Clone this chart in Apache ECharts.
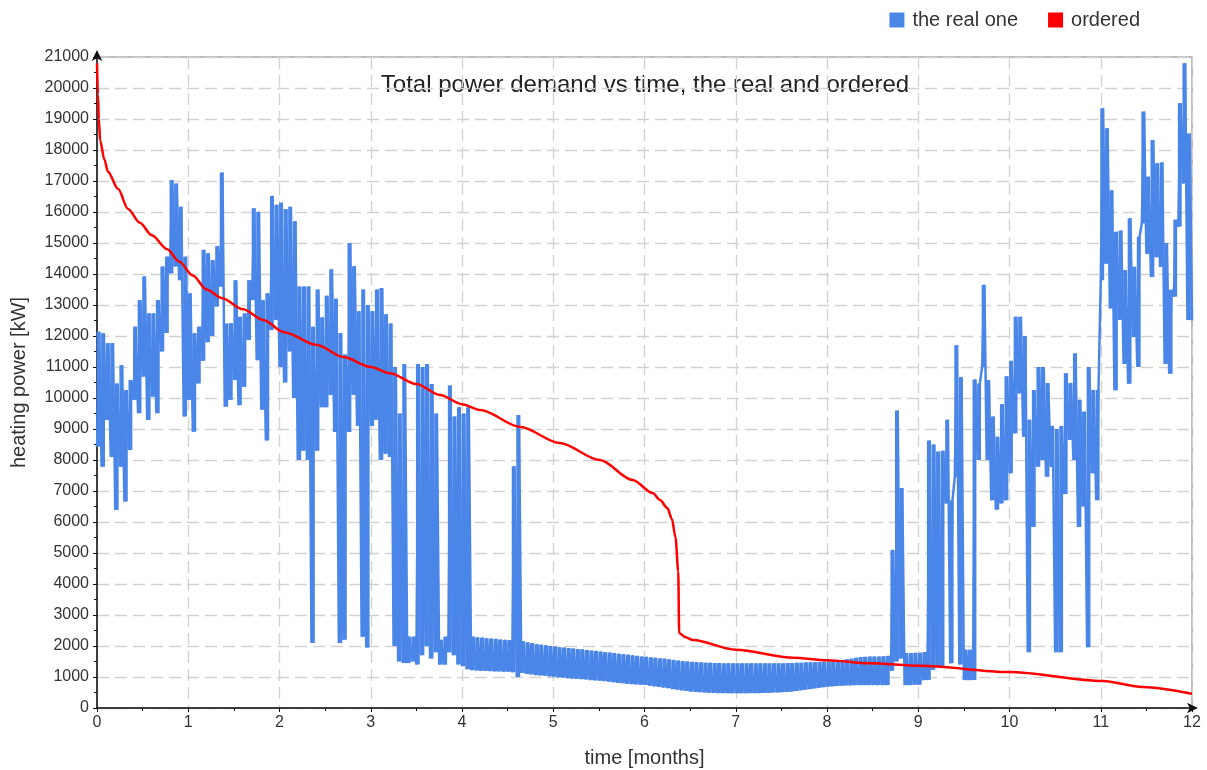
<!DOCTYPE html>
<html><head><meta charset="utf-8">
<script src="https://cdn.jsdelivr.net/npm/echarts@6/dist/echarts.min.js"></script>
<style>html,body{margin:0;padding:0;background:#fff}#c{width:1207px;height:770px}</style>
</head><body><div id="c"></div>
<script>
// ---- data ----
const titleText = 'Total power demand vs time, the real and ordered';
const seriesNames = ['the real one', 'ordered'];
const xTickValues = [0,1,2,3,4,5,6,7,8,9,10,11,12];

// "the real one": per 0.05-month step, the low then the high value of the signal
const realStep = 0.05;
const realHigh = [
 // month 0
 12140,12090,11770,11770,10470,11060,10260,10580,12300,13160,13920,12730,12730,13160,14240,14560,17030,16920,16170,14560,
 // month 1
 13380,12090,12300,14780,14670,14450,14900,17270,12400,12410,13800,12620,12730,13800,16120,16010,13160,13380,16520,16230,
 // month 2
 16300,16100,16170,15700,13600,13600,13600,12300,13500,12600,13300,14150,13200,12100,11400,15000,14250,12800,13500,13000,
 // month 3
 12800,13500,13550,12700,12400,11000,9500,11100,2300,2300,11100,11000,11100,10450,9500,2200,2300,10400,9400,9700,
 // month 4
 9500,9700,2300,2280,2270,2250,2240,2230,2210,2200,2190,7800,9450,2150,2120,2090,2060,2040,2020,2000,
 // month 5
 1980,1960,1950,1930,1920,1900,1890,1870,1850,1840,1820,1800,1790,1770,1750,1730,1720,1700,1680,1660,
 // month 6
 1650,1630,1620,1600,1590,1570,1550,1530,1510,1500,1490,1480,1470,1460,1460,1450,1450,1440,1440,1440,
 // month 7
 1440,1440,1440,1440,1440,1440,1440,1440,1440,1440,1440,1450,1450,1460,1460,1470,1470,1480,1480,1490,
 // month 8
 1500,1510,1530,1550,1570,1590,1620,1640,1650,1660,1660,1660,1670,1680,5100,9600,7100,1770,1770,1780,
 // month 9
 1780,1800,8630,8500,8270,8300,9300,6700,11700,10680,1880,1880,10600,10470,13650,10580,9400,8750,9800,10700,
 // month 10
 11200,12620,12620,12000,9300,10260,11000,11000,10480,9100,9000,9100,10800,10480,11440,9940,9560,11000,10260,10260,
 // month 11
 19350,18700,16700,15360,15400,14130,15800,14230,15200,19240,17140,18320,17570,17600,15000,13490,15750,19510,20800,18530
];
const realLow = [
 // month 0
 8430,7780,9290,8100,6390,7780,6660,8320,9940,9510,10690,9290,10040,9510,11500,12100,14020,14240,13800,9400,
 // month 1
 9940,8910,10470,11200,11800,12000,12950,13590,9720,9940,10580,9770,10360,11870,13160,11220,9620,8630,12190,12520,
 // month 2
 11000,10500,11500,10000,8000,8300,8000,2100,8300,9700,9700,10100,8900,2100,2200,8900,10100,9100,2300,1950,
 // month 3
 9100,9300,8000,8200,8100,2000,1500,1450,1450,1500,1400,1700,2000,1600,1800,1400,1400,1800,1700,1400,
 // month 4
 1350,1250,1220,1210,1200,1200,1190,1180,1180,1170,1170,1150,1000,1130,1100,1080,1060,1050,1040,1020,
 // month 5
 1010,990,980,960,950,940,930,920,900,890,880,870,850,830,810,800,780,770,760,750,
 // month 6
 745,720,700,680,660,640,610,590,570,550,530,520,510,500,490,490,480,480,475,475,
 // month 7
 475,475,475,480,480,480,490,490,500,500,510,520,530,550,570,590,610,630,650,670,
 // month 8
 690,700,710,720,730,730,740,740,740,740,740,740,740,740,1200,1500,1600,740,740,750,
 // month 9
 750,900,900,1230,1330,1300,6600,1440,7450,1400,900,900,900,8000,11000,8000,6700,6400,6600,6700,
 // month 10
 7570,8860,10150,8750,1800,5840,7780,8000,7460,7780,1800,1800,6900,8650,8000,5840,6500,1960,7570,6700,
 // month 11
 13800,14330,12890,10250,12520,11100,10460,11970,11000,15630,14650,13900,14540,14230,11100,10780,13270,15530,16920,12520
];
const realLastX = 12;
const realLast = 12500;

// "ordered": sorted (duration-curve) values
const orderedX = [0,0.01,0.02,0.035,0.08,0.12,0.23,0.34,0.47,0.6,0.77,0.9,1.05,1.2,1.37,1.6,1.82,2.05,2.41,2.7,3.0,3.21,3.5,3.76,4.0,4.2,4.64,5.07,5.51,5.87,6.09,6.17,6.25,6.3,6.34,6.37,6.38,6.45,6.53,7.0,7.63,8.0,8.47,9.02,10.0,11.02,11.46,12.0];
const orderedY = [20800,19800,19000,18300,17700,17300,16750,16100,15650,15250,14800,14400,13950,13500,13220,12860,12520,12120,11710,11320,11000,10800,10450,10100,9800,9610,9065,8550,8000,7355,6935,6710,6450,6100,5500,4400,2420,2280,2190,1880,1620,1540,1440,1360,1160,870,680,460];

// ---- build series data ----
const realLine = [];
const realRange = [];
for (let i = 0; i < realHigh.length; i++) {
  const x = i * realStep;
  realLine.push([x, realLow[i]]);
  realLine.push([x + realStep / 2, realHigh[i]]);
  realRange.push([x, realLow[i], realHigh[i]]);
}
realLine.push([realLastX, realLast]);
const orderedData = orderedX.map((x, i) => [x, orderedY[i]]);

const BLUE = '#4a86e8';
const FONT = '"Liberation Sans", Arial, sans-serif';
const chart = echarts.init(document.getElementById('c'), null, {renderer: 'canvas'});
chart.setOption({
  animation: false,
  backgroundColor: '#ffffff',
  textStyle: {fontFamily: FONT},
  legend: {
    data: seriesNames,
    right: 62, top: 5,
    icon: 'rect', itemWidth: 15, itemHeight: 15, itemGap: 30,
    textStyle: {fontFamily: FONT, fontSize: 20, color: '#333', padding: [0, 0, 0, 3]}
  },
  graphic: [{
    type: 'text', x: 645, y: 85,
    style: {text: titleText, fill: '#222', font: '24px ' + FONT, textAlign: 'center', textVerticalAlign: 'middle'}
  }],
  grid: {left: 97, right: 15, top: 57, bottom: 62, show: true, borderColor: '#a8a8a8', borderWidth: 1.5,
         containLabel: false, outerBoundsMode: 'none'},
  xAxis: {
    type: 'value', min: 0, max: 12, interval: 1,
    name: 'time [months]', nameLocation: 'middle', nameGap: 40,
    nameTextStyle: {fontFamily: FONT, fontSize: 20, color: '#333'},
    axisLine: {show: true, lineStyle: {color: '#111', width: 1.5}, symbol: ['none', 'arrow'], symbolSize: [8, 11], symbolOffset: [0, 6]},
    axisTick: {show: true, length: 4, lineStyle: {color: '#111'}},
    minorTick: {show: true, splitNumber: 2, length: 3, lineStyle: {color: '#111'}},
    axisLabel: {fontFamily: FONT, fontSize: 16, color: '#333', margin: 7,
      formatter: v => xTickValues.includes(v) ? String(v) : ''},
    splitLine: {show: true, lineStyle: {color: '#d2d2d2', width: 1.3, type: [12, 6]}}
  },
  yAxis: {
    type: 'value', min: 0, max: 21000, interval: 1000,
    name: 'heating power [kW]', nameLocation: 'middle', nameGap: 68, nameRotate: 90,
    nameTextStyle: {fontFamily: FONT, fontSize: 20, color: '#333'},
    axisLine: {show: true, lineStyle: {color: '#111', width: 1.5}, symbol: ['none', 'arrow'], symbolSize: [8, 11], symbolOffset: [0, 7]},
    axisTick: {show: true, length: 4, lineStyle: {color: '#111'}},
    minorTick: {show: true, splitNumber: 2, length: 3, lineStyle: {color: '#111'}},
    axisLabel: {fontFamily: FONT, fontSize: 16, color: '#333', margin: 8, formatter: v => String(v)},
    splitLine: {show: true, lineStyle: {color: '#d2d2d2', width: 1.3, type: [12, 6]}}
  },
  series: [
    {
      name: seriesNames[0], type: 'custom', data: realRange, color: BLUE,
      encode: {x: 0, y: [1, 2]}, z: 2, silent: true,
      renderItem: function (params, api) {
        const x = api.value(0), lo = api.value(1), hi = api.value(2);
        const a = api.coord([x - realStep * 0.1, hi]);
        const b = api.coord([x + realStep * 0.75, lo]);
        return {type: 'rect', shape: {x: a[0], y: a[1], width: b[0] - a[0], height: b[1] - a[1]},
                style: {fill: BLUE}};
      }
    },
    {
      name: seriesNames[0], type: 'line', data: realLine,
      showSymbol: false, symbol: 'none', color: BLUE,
      lineStyle: {color: BLUE, width: 2.5}, z: 2
    },
    {
      name: seriesNames[1], type: 'line', data: orderedData,
      showSymbol: false, symbol: 'none', color: '#ff0000', smooth: 0.3, smoothMonotone: 'x',
      lineStyle: {color: '#ff0000', width: 2.5}, z: 3
    }
  ]
});
</script>
</body></html>
